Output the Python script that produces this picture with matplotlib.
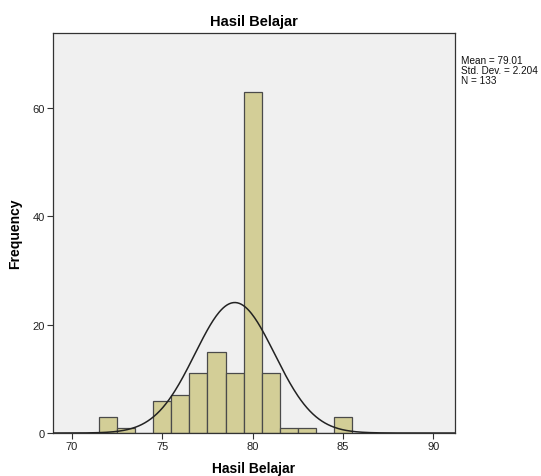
import numpy as np
import matplotlib
matplotlib.use("Agg")
import matplotlib.pyplot as plt

plt.rcParams['font.family'] = ['Liberation Sans', 'DejaVu Sans']

bin_centers = [72, 73, 74, 75, 76, 77, 78, 79, 80, 81, 82, 83, 84, 85]
counts = [3, 1, 0, 6, 7, 11, 15, 11, 63, 11, 1, 1, 0, 3]
mean = 79.01
std_dev = 2.204
n = 133
x_ticks = [70, 75, 80, 85, 90]
y_ticks = [0, 20, 40, 60]

fig = plt.figure(figsize=(5.41, 4.77), dpi=100)
ax = fig.add_axes([0.098, 0.0901, 0.743, 0.8386])
ax.set_facecolor('#F0F0F0')

ax.bar(bin_centers, counts, width=1.0, color='#D3CE97', edgecolor='#4a4a4a', linewidth=0.9, zorder=2)

xs = np.linspace(68.95, 91.2, 400)
ys = n * 1.0 / (std_dev * np.sqrt(2 * np.pi)) * np.exp(-0.5 * ((xs - mean) / std_dev) ** 2)
ax.plot(xs, ys, color='#222222', linewidth=1.1, zorder=3)

ax.set_xlim(68.95, 91.2)
ax.set_ylim(0, 73.8)
ax.set_xticks(x_ticks)
ax.set_yticks(y_ticks)
ax.tick_params(axis='both', labelsize=8, length=4, width=0.8, color='#333333', labelcolor='#222222', pad=2)
for s in ax.spines.values():
    s.set_color('#333333')
    s.set_linewidth(0.9)

ax.set_title('Hasil Belajar', fontsize=10.5, fontweight='bold', pad=6)
ax.set_xlabel('Hasil Belajar', fontsize=10, fontweight='bold', labelpad=7)
ax.set_ylabel('Frequency', fontsize=10, fontweight='bold', labelpad=7)

fig.text(461 / 541, 1 - 56 / 477, f'Mean = {mean:.2f}\nStd. Dev. = {std_dev:.3f}\nN = {n}',
         fontsize=7.2, va='top', ha='left', linespacing=1.0, color='#111111')

fig.savefig('out.png', dpi=100, facecolor='white')
